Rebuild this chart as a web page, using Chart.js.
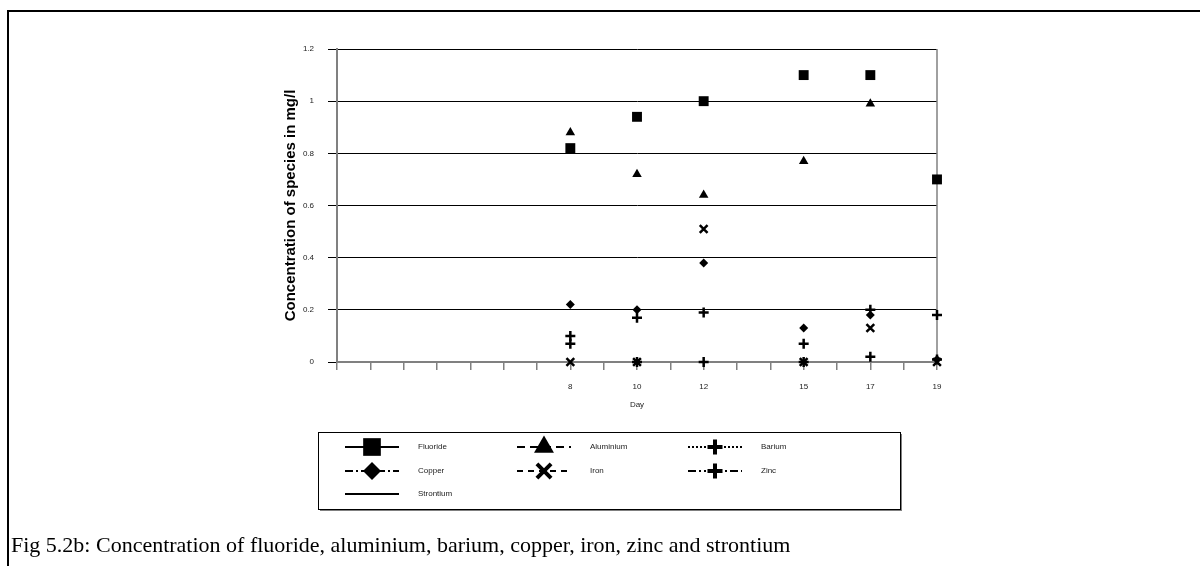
<!DOCTYPE html>
<html>
<head>
<meta charset="utf-8">
<script src="https://cdn.jsdelivr.net/npm/chart.js@4.4.1/dist/chart.umd.min.js"></script>
<style>
    html, body { margin: 0; padding: 0; background: #fff; }
    #wrap { position: relative; width: 1200px; height: 566px; overflow: hidden; }
    #frame { position: absolute; left: 7px; top: 10px; right: 0; bottom: 0; border-top: 2px solid #000; border-left: 2px solid #000; }
    #chart { position: absolute; left: 0; top: 0; }
    #caption { position: absolute; left: 11px; top: 532px; font-family: 'Liberation Serif', 'Times New Roman', serif; font-size: 22px; color: #000; white-space: nowrap; }
</style>
</head>
<body>
<div id="wrap">
    <div id="frame"></div>
    <canvas id="chart" width="1200" height="566"></canvas>
    <div id="caption">Fig 5.2b: Concentration of fluoride, aluminium, barium, copper, iron, zinc and strontium</div>
</div>
<script>
// --- data ---
const days = [8, 10, 12, 15, 17, 19];
const fluoride  = [0.82, 0.94, 1.00, 1.10, 1.10, 0.70];
const aluminium = [0.88, 0.72, 0.64, 0.77, 0.99, null];
const barium    = [0.10, 0.17, 0.19, 0.07, 0.20, 0.18];
const copper    = [0.22, 0.20, 0.38, 0.13, 0.18, 0.01];
const iron      = [0.00, 0.00, 0.51, 0.00, 0.13, 0.00];
const zinc      = [0.07, 0.00, 0.00, 0.00, 0.02, 0.01];
const strontium = [null, null, null, null, null, null];

const dayTicks = [1, 2, 3, 4, 5, 6, 7, 8, 9, 10, 11, 12, 13, 14, 15, 16, 17, 18, 19];
const yTicks = [0, 0.2, 0.4, 0.6, 0.8, 1, 1.2];

const axisFont = { family: "'Liberation Sans', Arial, sans-serif", size: 8 };

function pts(values) {
    return days.map((d, i) => ({ x: d, y: values[i] }));
}

function series(label, values, style) {
    return Object.assign({
        label: label,
        data: pts(values),
        showLine: false,
        clip: false,
        backgroundColor: '#000',
        borderColor: '#000',
        pointBackgroundColor: '#000',
        pointBorderColor: '#000',
        pointBorderWidth: 0,
        pointHoverRadius: 0
    }, style);
}

const datasets = [
    series('Fluoride', fluoride, { pointStyle: 'rect', pointRadius: 7, legendMarker: 12.5, legendDash: [] }),
    series('Aluminium', aluminium, { pointStyle: 'triangle', pointRadius: 5.5, legendMarker: 11.5, legendDash: [8, 5] }),
    series('Barium', barium, { pointStyle: 'cross', pointRadius: 5, pointBorderWidth: 2.5, legendMarker: 7.5, legendLine: 4, legendDash: [2, 2] }),
    series('Copper', copper, { pointStyle: 'rectRot', pointRadius: 4.5, legendMarker: 9, legendDash: [8, 3, 2, 3] }),
    series('Iron', iron, { pointStyle: 'crossRot', pointRadius: 5.5, pointBorderWidth: 2.5, legendMarker: 10, legendLine: 4, legendDash: [6, 5] }),
    series('Zinc', zinc, { pointStyle: 'cross', pointRadius: 5, pointBorderWidth: 2.5, legendMarker: 7.5, legendLine: 4, legendDash: [8, 3, 2, 3, 2, 3] }),
    series('Strontium', strontium, { pointRadius: 0, legendMarker: 0, legendDash: [] })
];

// right-hand frame of the plot area
const plotFrame = {
    id: 'plotFrame',
    beforeDatasetsDraw(chart) {
        const { ctx, chartArea } = chart;
        ctx.save();
        ctx.strokeStyle = '#808080';
        ctx.lineWidth = 1.5;
        ctx.beginPath();
        ctx.moveTo(chartArea.right, chartArea.top);
        ctx.lineTo(chartArea.right, chartArea.bottom);
        ctx.stroke();
        ctx.restore();
    }
};

// boxed legend below the plot, line sample + big marker like the original
const legendBox = {
    id: 'legendBox',
    afterDraw(chart) {
        const ctx = chart.ctx;
        const box = { x: 318, y: 432, w: 582, h: 77 };
        const cols = [345, 517, 688];
        const rows = [447, 471, 494];
        const len = 54;
        ctx.save();
        ctx.fillStyle = '#808080';
        ctx.fillRect(box.x + 2, box.y + box.h, box.w, 2);
        ctx.fillRect(box.x + box.w, box.y + 2, 2, box.h);
        ctx.strokeStyle = '#000';
        ctx.lineWidth = 1;
        ctx.strokeRect(box.x + 0.5, box.y + 0.5, box.w, box.h);

        chart.data.datasets.forEach((ds, i) => {
            const x = cols[i % 3];
            const y = rows[Math.floor(i / 3)];
            ctx.strokeStyle = '#000';
            ctx.lineWidth = 2;
            ctx.setLineDash(ds.legendDash);
            ctx.beginPath();
            ctx.moveTo(x, y);
            ctx.lineTo(x + len, y);
            ctx.stroke();
            ctx.setLineDash([]);
            if (ds.legendMarker) {
                ctx.fillStyle = '#000';
                ctx.lineWidth = ds.legendLine || 1;
                Chart.helpers.drawPoint(ctx, {
                    pointStyle: ds.pointStyle,
                    radius: ds.legendMarker,
                    rotation: 0,
                    borderWidth: ds.legendLine || 0
                }, x + len / 2, y);
            }
            ctx.fillStyle = '#222';
            ctx.font = "8px 'Liberation Sans', Arial, sans-serif";
            ctx.textBaseline = 'middle';
            ctx.textAlign = 'left';
            ctx.fillText(ds.label, x + len + 19, y);
        });
        ctx.restore();
    }
};

new Chart(document.getElementById('chart'), {
    type: 'line',
    data: { datasets: datasets },
    options: {
        responsive: false,
        animation: false,
        events: [],
        layout: { padding: { left: 280, top: 49, right: 263, bottom: 156 } },
        plugins: {
            legend: { display: false },
            tooltip: { enabled: false }
        },
        scales: {
            x: {
                type: 'linear',
                min: 1,
                max: 19,
                afterBuildTicks: scale => { scale.ticks = dayTicks.map(v => ({ value: v })); },
                afterFit: scale => { scale.height = 48; },
                ticks: {
                    autoSkip: false,
                    maxRotation: 0,
                    padding: 12,
                    color: '#222',
                    font: axisFont,
                    callback: v => days.includes(v) ? String(v) : ''
                },
                grid: { drawOnChartArea: false, tickLength: 8, color: '#808080', lineWidth: 1.5 },
                border: { color: '#808080', width: 2 },
                title: { display: true, text: 'Day', color: '#222', font: axisFont, padding: { top: 0, bottom: 0 } }
            },
            y: {
                min: 0,
                max: 1.2,
                afterBuildTicks: scale => { scale.ticks = yTicks.map(v => ({ value: v })); },
                afterFit: scale => { scale.width = 57; },
                ticks: {
                    padding: 14,
                    color: '#222',
                    font: axisFont,
                    callback: v => String(v)
                },
                grid: {
                    color: c => (c.tick && c.tick.value === 0) ? 'rgba(0,0,0,0)' : '#000',
                    tickColor: '#000',
                    tickLength: 9,
                    lineWidth: 1
                },
                border: { color: '#808080', width: 2 },
                title: {
                    display: true,
                    text: 'Concentration of species in mg/l',
                    color: '#000',
                    font: { family: "'Liberation Sans', Arial, sans-serif", size: 15, weight: 'bold' },
                    padding: { top: 2, bottom: 0 }
                }
            }
        }
    },
    plugins: [plotFrame, legendBox]
});
</script>
</body>
</html>
